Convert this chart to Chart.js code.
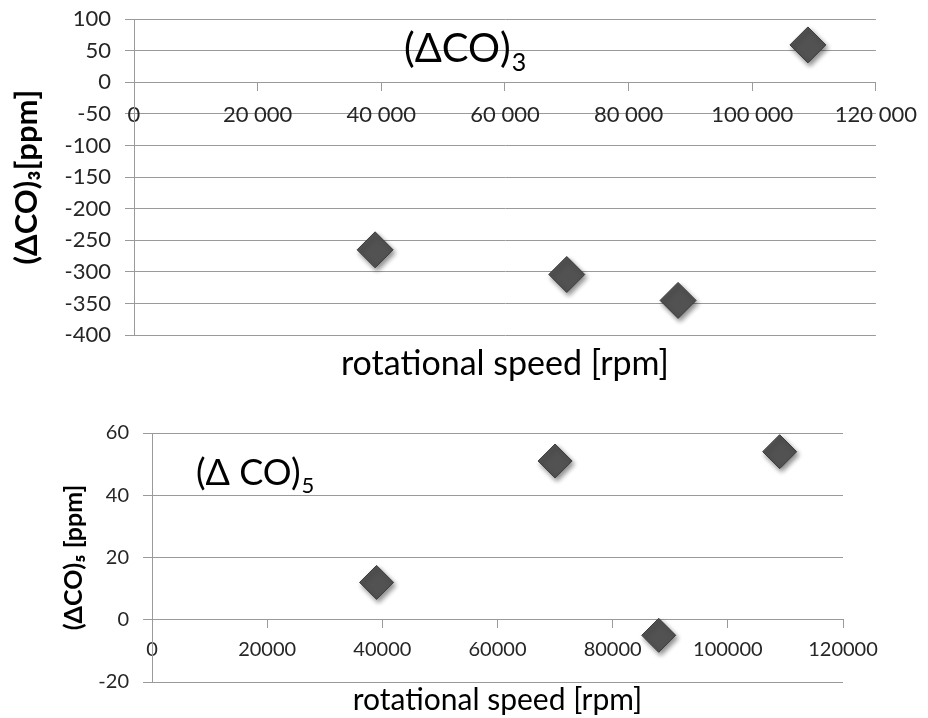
<!DOCTYPE html>
<html>
<head>
<meta charset="utf-8">
<script src="https://cdn.jsdelivr.net/npm/chart.js@4/dist/chart.umd.min.js"></script>
<style>
  body { margin: 0; background: #fff; }
  #top { position: absolute; left: 0; top: 0; }
  #bottom { position: absolute; left: 0; top: 400px; }
</style>
</head>
<body>
<canvas id="top" width="928" height="400"></canvas>
<canvas id="bottom" width="928" height="318"></canvas>
<script>
// rotational speed [rpm] and CO differences [ppm]
var speed3 = [39000, 70000, 88000, 109000];
var co3 = [-265, -304, -345, 59];
var speed5 = [39000, 70000, 88000, 109000];
var co5 = [12, 51, -5, 54];

var xTicks = [0, 20000, 40000, 60000, 80000, 100000, 120000];
var yTicks3 = [-400, -350, -300, -250, -200, -150, -100, -50, 0, 50, 100];
var yTicks5 = [-20, 0, 20, 40, 60];

var FONT = 'Lato, "Open Sans", "Liberation Sans", sans-serif';
var GRID = '#9a9a9a';
var TEXT = '#262626';

function points(xs, ys) {
    var out = [];
    for (var i = 0; i < xs.length; i++) {
        out.push({x: xs[i], y: ys[i]});
    }
    return out;
}

function spaced(v) {
    return String(v).replace(/\B(?=(\d{3})+(?!\d))/g, ' ');
}

// soft shadow under the diamonds
var shadowPlugin = {
    id: 'shadow',
    beforeDatasetsDraw: function(chart) {
        var c = chart.ctx;
        c.save();
        c.shadowColor = 'rgba(0,0,0,0.45)';
        c.shadowBlur = 5;
        c.shadowOffsetX = 2;
        c.shadowOffsetY = 3;
    },
    afterDatasetsDraw: function(chart) {
        chart.ctx.restore();
    }
};

// "(ΔCO)" label with a subscript inside the plot
var labelPlugin = {
    id: 'subLabel',
    afterDraw: function(chart, args, opts) {
        var c = chart.ctx;
        c.save();
        c.fillStyle = '#000';
        c.textBaseline = 'alphabetic';
        c.font = opts.size + 'px ' + FONT;
        c.fillText(opts.text, opts.x, opts.y);
        var w = c.measureText(opts.text).width;
        c.font = Math.round(opts.size * 0.62) + 'px ' + FONT;
        c.fillText(opts.sub, opts.x + w + 1, opts.y + opts.size * 0.22);
        c.restore();
    }
};

function makeChart(id, xs, ys, cfg) {
    return new Chart(document.getElementById(id), {
        type: 'scatter',
        data: {
            datasets: [{
                data: points(xs, ys),
                pointStyle: 'rectRot',
                pointRadius: cfg.radius,
                pointHoverRadius: cfg.radius,
                backgroundColor: '#525252',
                borderColor: '#3c3c3c',
                borderWidth: 1
            }]
        },
        options: {
            responsive: false,
            animation: false,
            events: [],
            layout: { padding: cfg.padding },
            plugins: {
                legend: { display: false },
                tooltip: { enabled: false },
                title: {
                    display: true,
                    text: 'rotational speed [rpm]',
                    position: 'bottom',
                    fullSize: false,
                    color: '#000',
                    font: { family: FONT, size: cfg.xTitleSize, weight: 'normal' },
                    padding: cfg.xTitlePad
                },
                subLabel: cfg.label
            },
            scales: {
                x: {
                    type: 'linear',
                    position: { y: 0 },
                    min: 0,
                    max: 120000,
                    afterBuildTicks: function(s) {
                        s.ticks = xTicks.map(function(v) { return {value: v}; });
                    },
                    ticks: {
                        color: TEXT,
                        font: { family: FONT, size: cfg.tickSize },
                        padding: cfg.xTickPad,
                        maxRotation: 0,
                        autoSkip: false,
                        callback: cfg.xFormat
                    },
                    grid: { drawOnChartArea: false, drawTicks: true, tickLength: 8, color: GRID },
                    border: { display: true, color: GRID }
                },
                y: {
                    type: 'linear',
                    position: 'left',
                    min: cfg.yTicks[0],
                    max: cfg.yTicks[cfg.yTicks.length - 1],
                    afterBuildTicks: function(s) {
                        s.ticks = cfg.yTicks.map(function(v) { return {value: v}; });
                    },
                    afterFit: function(s) {
                        s.width = cfg.yWidth;
                        s.paddingTop = 0;
                        s.paddingBottom = 0;
                    },
                    ticks: {
                        color: TEXT,
                        font: { family: FONT, size: cfg.tickSize },
                        padding: 14
                    },
                    grid: { color: GRID, tickLength: 9, drawTicks: true },
                    border: { display: true, color: GRID },
                    title: {
                        display: true,
                        text: cfg.yTitle,
                        color: '#000',
                        font: { family: FONT, size: cfg.yTitleSize, weight: 'bold' },
                        padding: { top: cfg.yTitlePad, bottom: 0 }
                    }
                }
            }
        },
        plugins: [shadowPlugin, labelPlugin]
    });
}

makeChart('top', speed3, co3, {
    radius: 18,
    padding: { left: 0, right: 50, top: 17, bottom: 0 },
    tickSize: 22,
    xTickPad: 11,
    xFormat: function(v) { return spaced(v); },
    xTitleSize: 34,
    xTitlePad: { top: 8, bottom: 16 },
    yTicks: yTicks3,
    yWidth: 134,
    yTitle: '(ΔCO)₃[ppm]',
    yTitleSize: 31,
    yTitlePad: 8,
    label: { text: '(ΔCO)', sub: '3', size: 40, x: 404, y: 62 }
});

makeChart('bottom', speed5, co5, {
    radius: 17,
    padding: { left: 0, right: 85, top: 33, bottom: 0 },
    tickSize: 20,
    xTickPad: 10,
    xFormat: function(v) { return String(v); },
    xTitleSize: 30,
    xTitlePad: { top: 0, bottom: 0 },
    yTicks: yTicks5,
    yWidth: 152,
    yTitle: '(ΔCO)₅ [ppm]',
    yTitleSize: 25,
    yTitlePad: 59,
    label: { text: '(Δ CO)', sub: '5', size: 36, x: 196, y: 85 }
});
</script>
</body>
</html>
